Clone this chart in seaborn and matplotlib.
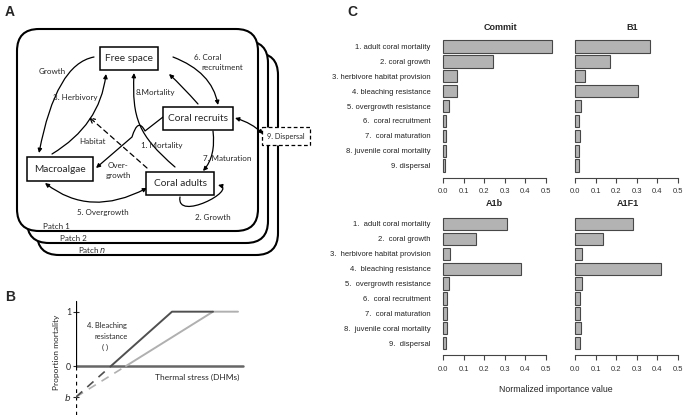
import matplotlib
matplotlib.use("Agg")
import matplotlib.pyplot as plt
import seaborn as sns
import pandas as pd
from matplotlib.patches import Rectangle, FancyBboxPatch, FancyArrowPatch
from matplotlib.path import Path

W, H = 686, 415

# ---- panel C data (normalized importance values) ----
labels_top = ["1. adult coral mortality", "2. coral growth", "3. herbivore habitat provision",
              "4. bleaching resistance", "5. overgrowth resistance", "6.  coral recruitment",
              "7.  coral maturation", "8. juvenile coral mortality", "9. dispersal"]
labels_bottom = ["1.  adult coral mortality", "2.  coral growth", "3.  herbivore habitat provision",
                 "4.  bleaching resistance", "5.  overgrowth resistance", "6.  coral recruitment",
                 "7.  coral maturation", "8.  juvenile coral mortality", "9.  dispersal"]
commit = [0.53, 0.245, 0.070, 0.066, 0.031, 0.013, 0.013, 0.013, 0.012]
b1 = [0.362, 0.172, 0.050, 0.304, 0.031, 0.021, 0.022, 0.019, 0.018]
a1b = [0.310, 0.162, 0.032, 0.377, 0.030, 0.021, 0.021, 0.021, 0.016]
a1f1 = [0.281, 0.137, 0.032, 0.418, 0.034, 0.023, 0.025, 0.027, 0.023]
xticks = [0.0, 0.1, 0.2, 0.3, 0.4, 0.5]
xtick_labels = ["0.0", "0.1", "0.2", "0.3", "0.4", "0.5"]

# ---- panel B data (schematic bleaching mortality curves) ----
b_intercept = -0.57
stress_dark = [0, 3.5, 9.6, 13.7]
mort_dark = [b_intercept, 0, 1, 1]
stress_light = [0, 5.0, 13.7, 16.2]
mort_light = [b_intercept, 0, 1, 1]

sns.set_style("white")
plt.rcParams["font.family"] = ["Liberation Sans", "DejaVu Sans"]
DIAG = ["Lato", "DejaVu Sans"]

fig = plt.figure(figsize=(W / 100, H / 100), dpi=100)


def px_rect(left, top, right, bottom):
    return [left / W, 1 - bottom / H, (right - left) / W, (bottom - top) / H]


# ---------------- canvas for diagram A ----------------
canvas = fig.add_axes([0, 0, 1, 1])
canvas.set_xlim(0, W)
canvas.set_ylim(H, 0)
canvas.axis("off")
canvas.patch.set_alpha(0)

for i, (dx, dy) in enumerate([(20, 24), (10, 12), (0, 0)]):
    canvas.add_patch(FancyBboxPatch((17 + dx, 29 + dy), 241, 202,
                                    boxstyle="round,pad=0,rounding_size=22",
                                    fc="white", ec="black", lw=1.5, zorder=1 + i * 0.1))

canvas.text(43, 226, "Patch 1", fontsize=5.8, family=DIAG, va="center", zorder=2)
canvas.text(60, 238, "Patch 2", fontsize=5.8, family=DIAG, va="center", zorder=2)
canvas.text(78, 250, "Patch $n$", fontsize=5.8, family=DIAG, va="center", zorder=2)

boxes = {"Free space": (100, 47, 158, 70), "Coral recruits": (163, 107, 233, 130),
         "Macroalgae": (27, 157, 93, 181), "Coral adults": (146, 172, 214, 195)}
for name, (x0, y0, x1, y1) in boxes.items():
    canvas.add_patch(Rectangle((x0, y0), x1 - x0, y1 - y0, fc="white", ec="black", lw=1.1, zorder=3))
    canvas.text((x0 + x1) / 2, (y0 + y1) / 2, name, fontsize=7.3, family=DIAG,
                ha="center", va="center", zorder=4)
canvas.add_patch(Rectangle((262, 127), 48, 18, fc="white", ec="black", lw=0.9, ls=(0, (3, 2)), zorder=3))
canvas.text(286, 136, "9. Dispersal", fontsize=5.3, family=DIAG, ha="center", va="center", zorder=4)


def arrow(verts, codes=None, style="-|>", ls="-", scale=6):
    if codes is None:
        n = len(verts)
        kind = {3: Path.CURVE3, 4: Path.CURVE4}.get(n, Path.LINETO)
        codes = [Path.MOVETO] + [kind] * (n - 1)
    p = FancyArrowPatch(path=Path(verts, codes), arrowstyle=style, mutation_scale=scale,
                        lw=0.9, ls=ls, color="black", zorder=2.5)
    canvas.add_patch(p)


arrow([(94, 57), (56, 64), (39, 153)])                        # growth of macroalgae
arrow([(52, 154), (100, 125), (106, 74)])                     # herbivory
arrow([(173, 57), (212, 72), (218, 105)])                     # coral recruitment
arrow([(198, 104), (182, 86), (169, 74)])                     # recruit mortality
arrow([(175, 167), (138, 135), (132, 118), (134, 73)])        # adult mortality
arrow([(163, 117), (145, 131), (138, 117), (132, 137), (96, 168)],
      [Path.MOVETO, Path.LINETO, Path.CURVE3, Path.CURVE3, Path.LINETO])  # overgrowth of recruits
arrow([(147, 168), (89, 117)], style="->", ls=(0, (4, 3)), scale=9)     # habitat
arrow([(213, 131), (216, 156), (203, 171)])                   # maturation
arrow([(45, 183), (90, 218), (147, 188)], style="<|-|>")      # overgrowth
arrow([(180, 197), (176, 222), (238, 190), (218, 185)])       # adult growth
arrow([(235, 118), (252, 123), (263, 134)], style="<|-|>")    # dispersal

diag_labels = [
    (52, 72, "Growth"), (75, 97, "3. Herbivory"), (208, 57, "6. Coral"),
    (222, 67, "recruitment"), (155, 93, "8.Mortality"), (93, 141, "Habitat"),
    (162, 145, "1. Mortality"), (227, 158, "7. Maturation"), (118, 165, "Over-"),
    (118, 175, "growth"), (103, 212, "5. Overgrowth"), (213, 217, "2. Growth"),
]
for x, y, s in diag_labels:
    canvas.text(x, y, s, fontsize=5.8, family=DIAG, ha="center", va="center", zorder=4)

# panel B texts
canvas.text(57, 352, "Proportion mortality", fontsize=6, family=DIAG, rotation=90,
            ha="center", va="center")
canvas.text(155, 377, "Thermal stress (DHMs)", fontsize=6, family=DIAG, va="center")
canvas.text(107, 325, "4. Bleaching", fontsize=5.4, family=DIAG, ha="center", va="center")
canvas.text(111, 336, "resistance", fontsize=5.4, family=DIAG, ha="center", va="center")
canvas.text(105, 347, "( )", fontsize=5.4, family=DIAG, ha="center", va="center")

for x, y, s in [(10, 12, "A"), (10, 297, "B"), (352, 12, "C")]:
    canvas.text(x, y, s, fontsize=10, fontweight="bold", ha="center", va="center")

# ---------------- panel B ----------------
axb = fig.add_axes(px_rect(76, 300, 250, 415))
axb.patch.set_alpha(0)
axb.set_xlim(0, 17.4)
axb.set_ylim(-0.902, 1.215)
for s in axb.spines.values():
    s.set_visible(False)
axb.plot([0, 16.7], [0, 0], color="#666666", lw=1.8, zorder=1)
axb.plot([0, 0], [0, 1.2], color="black", lw=0.9)
axb.plot([0, 0], [-0.9, 0], color="black", lw=0.9, ls=(0, (3, 3)))
axb.plot(stress_light[:2], mort_light[:2], color="#b0b0b0", lw=1.2, ls=(0, (5, 4)))
axb.plot(stress_light[1:], mort_light[1:], color="#b0b0b0", lw=1.4)
axb.plot(stress_dark[:2], mort_dark[:2], color="#505050", lw=1.2, ls=(0, (5, 4)))
axb.plot(stress_dark[1:], mort_dark[1:], color="#505050", lw=1.4)
axb.set_xticks([])
axb.set_yticks([b_intercept, 0, 1])
axb.set_yticklabels(["$b$", "0", "1"], family=DIAG, fontsize=6.3)
axb.tick_params(axis="y", left=True, direction="inout", length=4, width=0.8, pad=1.5)

# ---------------- panel C ----------------
panels = [
    (commit, labels_top, True, "Commit", 438.9, 38, 500, 27.7),
    (b1, labels_top, False, "B1", 570.9, 38, 632, 28),
    (a1b, labels_bottom, True, "A1b", 438.9, 215.5, 494, 203),
    (a1f1, labels_bottom, False, "A1F1", 570.9, 215.5, 628, 203),
]
for values, labels, show_labels, title, left, top, tx, ty in panels:
    ax = fig.add_axes(px_rect(left, top, left + 0.58 * 206, top + 139.6))
    ax.patch.set_alpha(0)
    df = pd.DataFrame({"param": labels, "value": values})
    sns.barplot(data=df, x="value", y="param", orient="h", color="#b3b3b3", saturation=1,
                edgecolor="#474747", linewidth=0.8, width=0.83, ax=ax)
    ax.set_xlim(-0.02, 0.56)
    ax.set_ylim(8.8, -0.57)
    for side in ["top", "right", "left"]:
        ax.spines[side].set_visible(False)
    ax.spines["bottom"].set_bounds(0, 0.5)
    ax.spines["bottom"].set_color("#444444")
    ax.spines["bottom"].set_linewidth(0.8)
    ax.set_xticks(xticks)
    ax.set_xticklabels(xtick_labels, fontsize=5.5, color="#333333")
    ax.tick_params(axis="x", bottom=True, length=3.5, width=0.8, color="#444444", pad=4)
    ax.tick_params(axis="y", left=False, pad=2.5)
    if show_labels:
        ax.set_yticklabels(labels, fontsize=5.5, color="#222222")
    else:
        ax.set_yticklabels([])
    ax.set_xlabel("")
    ax.set_ylabel("")
    fig.text(tx / W, 1 - ty / H, title, fontsize=6.5, fontweight="bold", ha="center", va="center")

fig.text(556 / W, 1 - 389 / H, "Normalized importance value", fontsize=6.3, ha="center", va="center")

fig.savefig("out.png", dpi=100)
